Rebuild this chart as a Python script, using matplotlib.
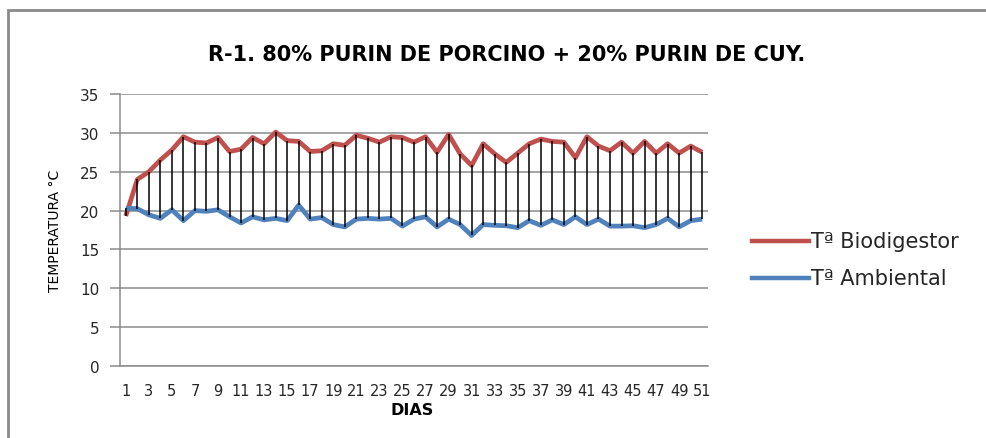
import matplotlib
matplotlib.use("Agg")
import matplotlib.pyplot as plt
from matplotlib.patches import Rectangle
from matplotlib.lines import Line2D

# Daily temperatures (°C) over 51 days
dias = list(range(1, 52))
t_biodigestor = [19.3, 24.0, 25.0, 26.5, 27.8, 29.5, 28.8, 28.7, 29.4, 27.6,
                 27.9, 29.4, 28.6, 30.1, 29.0, 28.9, 27.6, 27.7, 28.6, 28.4,
                 29.7, 29.3, 28.8, 29.5, 29.4, 28.8, 29.5, 27.5, 29.8, 27.3,
                 25.8, 28.6, 27.3, 26.2, 27.4, 28.6, 29.2, 28.9, 28.8, 26.8,
                 29.5, 28.3, 27.7, 28.8, 27.4, 28.9, 27.4, 28.6, 27.4, 28.3,
                 27.5]
t_ambiental = [20.3, 20.25, 19.45, 19.0, 20.1, 18.7, 20.0, 19.9, 20.1, 19.2,
               18.4, 19.2, 18.8, 19.0, 18.7, 20.7, 18.9, 19.1, 18.2, 17.9,
               18.9, 19.0, 18.9, 19.0, 18.0, 18.9, 19.2, 17.9, 18.9, 18.2,
               16.8, 18.2, 18.1, 18.05, 17.8, 18.7, 18.1, 18.8, 18.2, 19.2,
               18.2, 18.9, 18.0, 18.0, 18.05, 17.8, 18.2, 19.0, 17.9, 18.7,
               18.9]
x_ticks = list(range(1, 52, 2))
y_ticks = [0, 5, 10, 15, 20, 25, 30, 35]

titulo = "R-1. 80% PURIN DE PORCINO + 20% PURIN DE CUY."
serie_nombres = ["Tª Biodigestor", "Tª Ambiental"]
red = "#C0504D"
blue = "#4F81BD"
grid_c = "#8C8C8C"
text_c = "#262626"

W, H = 987, 439
fig = plt.figure(figsize=(W / 100, H / 100), dpi=100)

# outer chart-area frame
fig.patches.append(Rectangle((8 / W, -0.1), 1.2, 1.1 - 11 / H,
                             transform=fig.transFigure, fill=False,
                             edgecolor="#8A8A8A", linewidth=2.0, zorder=0))

ax = fig.add_axes([120 / W, 1 - 367 / H, (708 - 120) / W, (367 - 95) / H])
ax.set_xlim(0.5, 51.5)
ax.set_ylim(0, 35)

# horizontal grid lines
ax.set_yticks(y_ticks)
ax.yaxis.grid(True, color=grid_c, linewidth=1.1)
ax.set_axisbelow(True)

# high-low connector lines between the two series
ax.vlines(dias, t_ambiental, t_biodigestor, colors="black", linewidth=1.1, zorder=4)
ax.plot(dias, t_biodigestor, color=red, linewidth=3.4, solid_joinstyle="round",
        solid_capstyle="butt", zorder=3)
ax.plot(dias, t_ambiental, color=blue, linewidth=3.4, solid_joinstyle="round",
        solid_capstyle="butt", zorder=3)

for s in ["top", "right"]:
    ax.spines[s].set_visible(False)
for s in ["left", "bottom"]:
    ax.spines[s].set_color(grid_c)
    ax.spines[s].set_linewidth(1.1)

ax.set_xticks(x_ticks)
ax.set_xticklabels([str(v) for v in x_ticks])
ax.tick_params(axis="x", length=0, pad=12, labelsize=10.5, labelcolor=text_c)
ax.tick_params(axis="y", length=7, width=1.1, color=grid_c, pad=8,
               labelsize=11, labelcolor=text_c)

fig.text(507 / W, 1 - 55 / H, titulo, ha="center", va="center",
         fontsize=15, fontweight="bold", family="DejaVu Sans", color="black")
fig.text(412 / W, 1 - 411 / H, "DIAS", ha="center", va="center",
         fontsize=11.5, fontweight="bold", family="DejaVu Sans", color="black")
fig.text(55 / W, 1 - 231 / H, "TEMPERATURA °C", ha="center", va="center",
         rotation=90, fontsize=10, family="DejaVu Sans", color="black")

# legend
for i, (name, col) in enumerate(zip(serie_nombres, [red, blue])):
    y = 1 - (242 + 37 * i) / H
    fig.add_artist(Line2D([752 / W, 809 / W], [y, y], color=col,
                          linewidth=3.2, transform=fig.transFigure))
    fig.text(811 / W, y, name, ha="left", va="center", fontsize=15,
             family="DejaVu Sans", color=text_c)

fig.savefig("out.png", dpi=100)
